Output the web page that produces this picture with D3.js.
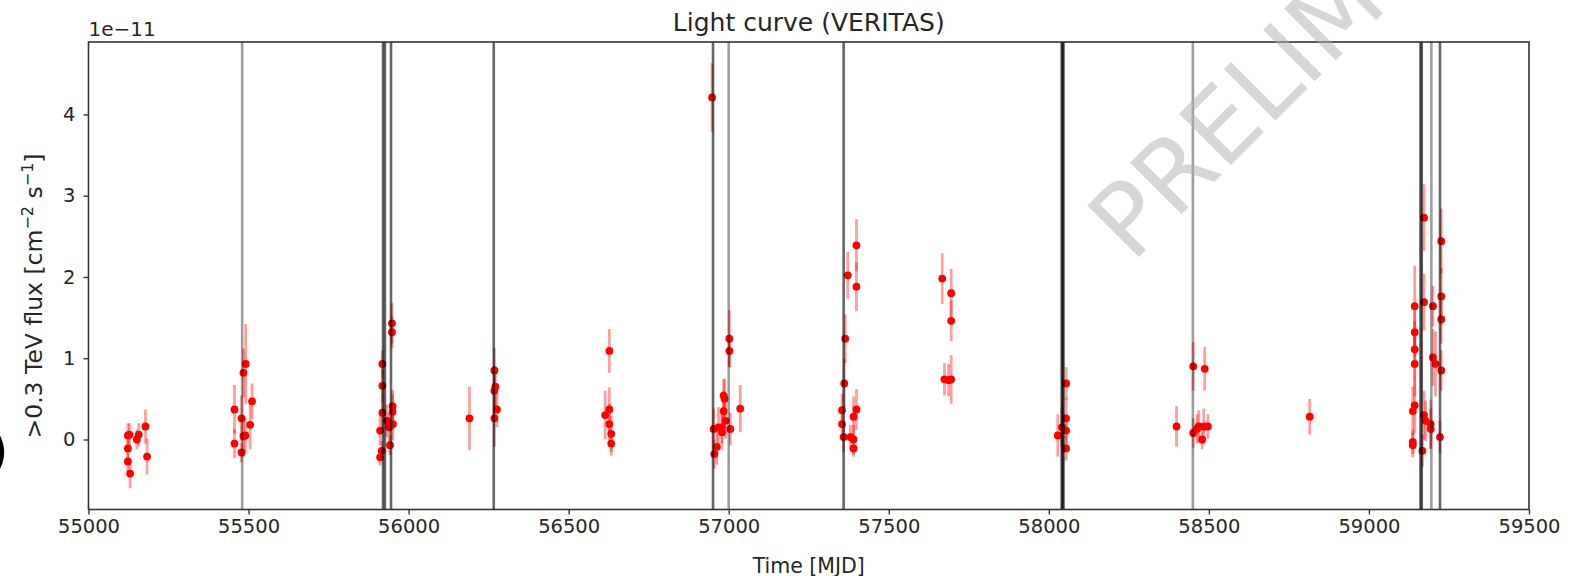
<!DOCTYPE html>
<html>
<head>
<meta charset="utf-8">
<script src="https://cdn.jsdelivr.net/npm/d3@7"></script>
<style>
  body { margin: 0; background: #fff; }
  svg { display: block; font-family: "DejaVu Sans", sans-serif; }
</style>
</head>
<body>
<div id="chart"></div>
<script>
// observation time (MJD), flux and error, flux in units of 1e-11 cm^-2 s^-1
var mjd = [
  55123, 55128, 55123, 55123, 55130, 55151, 55157, 55178, 55183,
  55456, 55456, 55478, 55484, 55491, 55484, 55478, 55490, 55511, 55505,
  55918, 55918, 55918, 55911, 55911, 55916, 55932, 55939, 55950, 55950, 55951, 55942, 55948, 55948,
  56190,
  56268, 56271, 56268, 56276, 56268,
  56627, 56627, 56614, 56627, 56633, 56633,
  56948, 56953, 56955, 56963, 56968, 56979, 56984, 56987, 56984, 56979, 57005, 57002, 57002, 57036, 56990,
  57399, 57372, 57399, 57364, 57361, 57354, 57354, 57359, 57399, 57390, 57380, 57390, 57390,
  57667, 57695, 57695, 57674, 57695, 57687,
  58054, 58054, 58054, 58028, 58054, 58041,
  58399, 58451, 58487, 58451, 58468, 58484, 58497, 58479, 58463,
  58815,
  59172, 59226, 59143, 59172, 59200, 59226, 59226, 59143, 59143, 59143, 59200, 59208,
  59226, 59143, 59137, 59172, 59177, 59193, 59193, 59137, 59137, 59167, 59222
];
var flux = [
  0.05, 0.06, -0.11, -0.27, -0.42, 0.00, 0.06, 0.16, -0.21,
  0.37, -0.05, 0.26, 0.82, 0.93, 0.04, -0.16, 0.05, 0.47, 0.18,
  0.93, 0.66, 0.33, 0.11, -0.22, -0.14, 0.23, 0.15, 0.41, 0.34, 0.19, -0.07, 1.43, 1.32,
  0.26,
  0.85, 0.65, 0.60, 0.37, 0.26,
  1.09, 0.37, 0.30, 0.19, 0.07, -0.05,
  4.21, 0.13, -0.18, -0.09, 0.15, 0.09, 0.35, 0.50, 0.54, 0.15, 0.13, 1.24, 1.09, 0.38, 0.23,
  2.39, 2.02, 1.88, 1.24, 0.69, 0.36, 0.19, 0.03, 0.37, 0.28, 0.03, 0.00, -0.11,
  1.98, 1.80, 1.46, 0.74, 0.74, 0.73,
  0.69, 0.26, 0.11, 0.05, -0.11, 0.15,
  0.16, 0.90, 0.87, 0.08, 0.16, 0.16, 0.16, 0.00, 0.13,
  0.28,
  2.73, 2.44, 1.64, 1.69, 1.64, 1.76, 1.48, 1.32, 1.11, 0.93, 1.01, 0.93,
  0.85, 0.42, 0.35, 0.30, 0.23, 0.19, 0.13, -0.03, -0.07, -0.14, 0.03
];
var fluxErr = [
  0.15, 0.14, 0.16, 0.18, 0.18, 0.12, 0.14, 0.21, 0.22,
  0.30, 0.18, 0.28, 0.30, 0.49, 0.25, 0.12, 0.22, 0.22, 0.30,
  0.17, 0.20, 0.25, 0.18, 0.10, 0.12, 0.20, 0.18, 0.20, 0.22, 0.20, 0.12, 0.25, 0.20,
  0.39,
  0.28, 0.25, 0.30, 0.22, 0.35,
  0.27, 0.27, 0.30, 0.25, 0.22, 0.15,
  0.42, 0.25, 0.18, 0.22, 0.25, 0.22, 0.25, 0.25, 0.20, 0.20, 0.20, 0.35, 0.20, 0.29, 0.22,
  0.32, 0.29, 0.30, 0.30, 0.30, 0.20, 0.20, 0.18, 0.25, 0.25, 0.15, 0.18, 0.10,
  0.31, 0.30, 0.25, 0.20, 0.30, 0.20,
  0.20, 0.25, 0.20, 0.26, 0.15, 0.25,
  0.25, 0.30, 0.27, 0.18, 0.20, 0.22, 0.15, 0.12, 0.18,
  0.22,
  0.41, 0.40, 0.50, 0.35, 0.25, 0.35, 0.30, 0.30, 0.35, 0.40, 0.35, 0.40,
  0.25, 0.35, 0.30, 0.30, 0.25, 0.30, 0.25, 0.15, 0.15, 0.20, 0.20
];

// marked epochs (vertical lines)
var darkLines = [55920, 55926, 55945, 56266, 56951, 57359, 58040, 58043, 58046, 59161, 59165, 59222];
var greyLines = [55480, 57000, 58450, 59195];

var xTicks = [55000, 55500, 56000, 56500, 57000, 57500, 58000, 58500, 59000, 59500];
var yTicks = [0, 1, 2, 3, 4];

var W = 1575, H = 576;
var margin = { top: 42, right: 46, bottom: 66.5, left: 88.5 };
var width = W - margin.left - margin.right,
    height = H - margin.top - margin.bottom;

var data = mjd.map(function (t, i) { return { t: t, f: flux[i], e: fluxErr[i] }; });

var lo = d3.min(data, function (d) { return d.f - d.e; }),
    hi = d3.max(data, function (d) { return d.f + d.e; }),
    pad = (hi - lo) * 0.05;

var x = d3.scaleLinear().domain([55000, 59500]).range([0, width]);
var y = d3.scaleLinear().domain([lo - pad, hi + pad]).range([height, 0]);

var svg = d3.select("#chart").append("svg")
    .attr("width", W)
    .attr("height", H);

var g = svg.append("g")
    .attr("transform", "translate(" + margin.left + "," + margin.top + ")");

// error bars
g.selectAll(".err")
    .data(data)
    .enter().append("line")
    .attr("class", "err")
    .attr("x1", function (d) { return x(d.t); })
    .attr("x2", function (d) { return x(d.t); })
    .attr("y1", function (d) { return y(d.f - d.e); })
    .attr("y2", function (d) { return y(d.f + d.e); })
    .style("stroke", "red")
    .style("stroke-opacity", 0.38)
    .style("stroke-width", 2.8);

// points
g.selectAll(".dot")
    .data(data)
    .enter().append("circle")
    .attr("class", "dot")
    .attr("cx", function (d) { return x(d.t); })
    .attr("cy", function (d) { return y(d.f); })
    .attr("r", 3.9)
    .style("fill", "red");

// vertical lines
g.selectAll(".vdark")
    .data(darkLines)
    .enter().append("line")
    .attr("class", "vdark")
    .attr("x1", function (d) { return x(d); })
    .attr("x2", function (d) { return x(d); })
    .attr("y1", 0)
    .attr("y2", height)
    .style("stroke", "black")
    .style("stroke-opacity", 0.6)
    .style("stroke-width", 2.6);

g.selectAll(".vgrey")
    .data(greyLines)
    .enter().append("line")
    .attr("class", "vgrey")
    .attr("x1", function (d) { return x(d); })
    .attr("x2", function (d) { return x(d); })
    .attr("y1", 0)
    .attr("y2", height)
    .style("stroke", "black")
    .style("stroke-opacity", 0.38)
    .style("stroke-width", 2.6);

// axes
var xAxis = g.append("g")
    .attr("transform", "translate(0," + height + ")")
    .call(d3.axisBottom(x).tickValues(xTicks).tickFormat(d3.format("d")).tickSize(5).tickPadding(5));

var yAxis = g.append("g")
    .call(d3.axisLeft(y).tickValues(yTicks).tickFormat(d3.format("d")).tickSize(5).tickPadding(8));

[xAxis, yAxis].forEach(function (a) {
    a.select(".domain").remove();
    a.selectAll("line").style("stroke", "#333").style("stroke-width", 1.4);
    a.selectAll("text").style("font-size", "19.5px").style("fill", "#262626")
        .style("font-family", "DejaVu Sans");
});

// frame
g.append("rect")
    .attr("width", width)
    .attr("height", height)
    .style("fill", "none")
    .style("stroke", "#333")
    .style("stroke-width", 1.6);

// texts
svg.append("text")
    .attr("x", margin.left + width / 2)
    .attr("y", 31)
    .style("text-anchor", "middle")
    .style("font-size", "25px")
    .style("fill", "#262626")
    .text("Light curve (VERITAS)");

svg.append("text")
    .attr("x", margin.left)
    .attr("y", 36)
    .style("font-size", "20px")
    .style("fill", "#262626")
    .text("1e\u221211");

svg.append("text")
    .attr("x", margin.left + width / 2)
    .attr("y", 573)
    .style("text-anchor", "middle")
    .style("font-size", "20.5px")
    .style("fill", "#262626")
    .text("Time [MJD]");

var yl = svg.append("text")
    .attr("transform", "translate(42,296) rotate(-90)")
    .style("text-anchor", "middle")
    .style("font-size", "23.5px")
    .style("fill", "#262626");
yl.append("tspan").text(">0.3 TeV flux [cm");
yl.append("tspan").attr("dy", -9).style("font-size", "16px").text("\u22122");
yl.append("tspan").attr("dy", 9).text(" s");
yl.append("tspan").attr("dy", -9).style("font-size", "16px").text("\u22121");
yl.append("tspan").attr("dy", 9).text("]");

// clipped glyph at the left edge
svg.append("text")
    .attr("x", -11)
    .attr("y", 468)
    .style("font-size", "50px")
    .style("fill", "#000")
    .text(")");

// watermark
svg.append("text")
    .attr("transform", "translate(1132,264) rotate(-45)")
    .style("font-size", "100px")
    .style("fill", "#b0b0b0")
    .style("fill-opacity", 0.5)
    .text("PRELIMINARY");
</script>
</body>
</html>
